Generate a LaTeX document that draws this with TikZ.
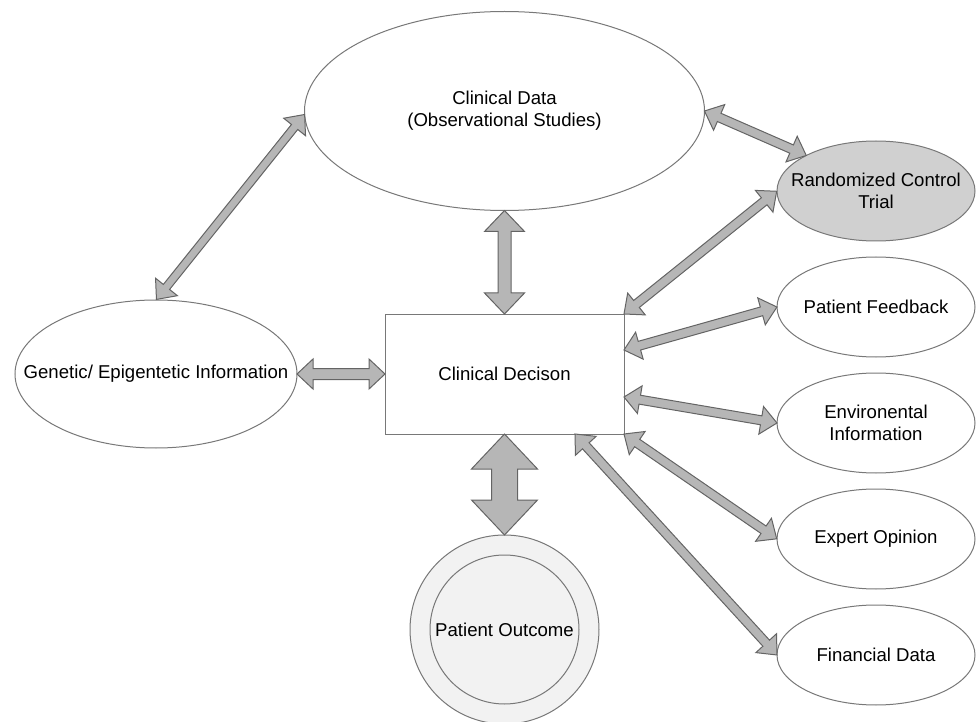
\documentclass[tikz,border=0pt]{standalone}
\usepackage{fontspec}
\setmainfont{Liberation Sans}
\usepackage{xcolor}
\definecolor{edgegrey}{RGB}{120,120,120}
\definecolor{arrowgrey}{RGB}{182,182,182}
\definecolor{arrowedge}{RGB}{100,100,100}
\definecolor{trialgrey}{RGB}{208,208,208}
\definecolor{outcomegrey}{RGB}{242,242,242}
\usepackage{tikz}
\usetikzlibrary{calc,positioning,shapes.geometric}

\newcommand\bothways[5]{%
  \draw[blockarrow] let \p1=(#1), \p2=(#2),
      \n1={veclen(\x2-\x1,\y2-\y1)}, \n2={atan2(\y2-\y1,\x2-\x1)} in
    [shift={(\p1)},rotate=\n2]
    (0pt,0pt) -- (#5,#4) -- (#5,#3) -- ({\n1-#5},#3) -- ({\n1-#5},#4) -- ({\n1*1pt},0pt)
    -- ({\n1-#5},-#4) -- ({\n1-#5},-#3) -- (#5,-#3) -- (#5,-#4) -- cycle;}

\begin{document}
\begin{tikzpicture}[x=0.5pt,y=-0.5pt,
    every node/.style={font=\fontsize{9.3}{11}\selectfont},
    every label/.style={align=center},
    oval/.style={ellipse,draw=edgegrey,fill=white,line width=0.5pt,inner sep=0pt,outer sep=0pt,
      minimum width=99pt,minimum height=50pt},
    box/.style={rectangle,draw=edgegrey,fill=white,line width=0.5pt,inner sep=0pt,outer sep=0pt,
      minimum width=119.5pt,minimum height=60pt},
    ring/.style={circle,draw=edgegrey,fill=outcomegrey,line width=0.5pt,inner sep=0pt,outer sep=0pt},
    blockarrow/.style={draw=arrowedge,fill=arrowgrey,line width=0.5pt,line join=miter}]
    \useasboundingbox (0,0) rectangle (976,722);

    \node[oval,minimum width=200pt,minimum height=99.5pt,
      label={center:Clinical Data\\(Observational Studies)}] (clin) at (504.5,111) {};
    \node[box] (dec) at (504.5,374) {Clinical Decison};
    \node[oval,minimum width=141pt,minimum height=74pt,
      label={center:Genetic/ Epigentetic Information}] (gen) at (156,374) {};

    \node[oval,fill=trialgrey,label={center:Randomized Control\\Trial}] (rct) at (876,191) {};
    \node[oval,label={center:Patient Feedback}] (feed) [below=8pt of rct] {};
    \node[oval,label={center:Environental\\Information}] (env) [below=8pt of feed] {};
    \node[oval,label={center:Expert Opinion}] (expert) [below=8pt of env] {};
    \node[oval,label={center:Financial Data}] (fin) [below=8pt of expert] {};

    \node[ring,minimum size=94.5pt] (outcome) at (504.5,629.5) {};
    \node[ring,minimum size=74.5pt] (outcomein) at (outcome) {Patient Outcome};

    \bothways{clin.south}{dec.north}{3.25pt}{10pt}{10.5pt}
    \bothways{dec.south}{outcome.north}{6.5pt}{16.5pt}{17.5pt}
    \bothways{gen.east}{dec.west}{2.75pt}{7.5pt}{8pt}
    \bothways{clin.181}{gen.north}{2pt}{7pt}{8pt}
    \bothways{clin.east}{rct.153}{2.25pt}{7pt}{8pt}
    \bothways{dec.north east}{rct.west}{2.25pt}{7pt}{8pt}
    \bothways{[yshift=12pt]dec.east}{feed.west}{2.25pt}{7pt}{8pt}
    \bothways{[yshift=-11.5pt]dec.east}{env.west}{2.25pt}{7pt}{8pt}
    \bothways{dec.south east}{expert.west}{2.25pt}{7pt}{8pt}
    \bothways{[xshift=-24.5pt]dec.south east}{fin.west}{2.25pt}{7pt}{8pt}
\end{tikzpicture}
\end{document}
